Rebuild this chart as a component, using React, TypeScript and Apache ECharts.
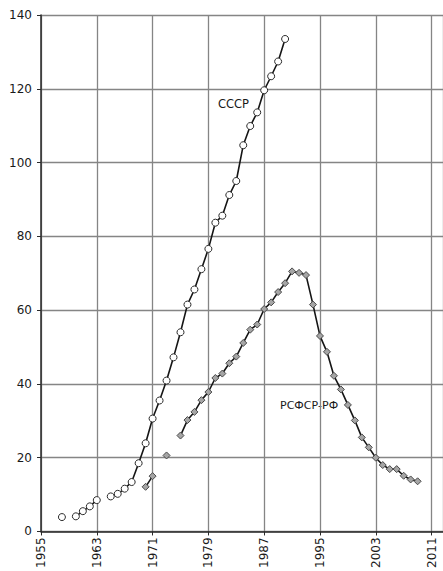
import React, { useEffect, useRef } from "react";
import * as echarts from "echarts";

const xTicks = [1955, 1963, 1971, 1979, 1987, 1995, 2003, 2011];
const yTicks = [0, 20, 40, 60, 80, 100, 120, 140];

const ussrYears = [1958, 1959, 1960, 1961, 1962, 1963, 1964, 1965, 1966, 1967, 1968, 1969, 1970, 1971, 1972, 1973, 1974, 1975, 1976, 1977, 1978, 1979, 1980, 1981, 1982, 1983, 1984, 1985, 1986, 1987, 1988, 1989, 1990];
const ussrValues = [3.9, null, 4.1, 5.5, 6.8, 8.5, null, 9.5, 10.2, 11.6, 13.4, 18.5, 23.9, 30.6, 35.5, 40.9, 47.2, 54.0, 61.5, 65.6, 71.1, 76.6, 83.7, 85.6, 91.2, 95.0, 104.7, 109.9, 113.6, 119.6, 123.4, 127.4, 133.5];

const rsfsrYears = [1970, 1971, 1972, 1973, 1974, 1975, 1976, 1977, 1978, 1979, 1980, 1981, 1982, 1983, 1984, 1985, 1986, 1987, 1988, 1989, 1990, 1991, 1992, 1993, 1994, 1995, 1996, 1997, 1998, 1999, 2000, 2001, 2002, 2003, 2004, 2005, 2006, 2007, 2008, 2009];
const rsfsrValues = [12.1, 15.0, null, 20.6, null, 26.0, 30.2, 32.4, 35.6, 37.8, 41.6, 42.8, 45.6, 47.4, 51.1, 54.7, 56.1, 60.3, 62.1, 64.9, 67.3, 70.5, 70.1, 69.5, 61.5, 53.0, 48.7, 42.2, 38.5, 34.3, 30.1, 25.5, 22.8, 20.0, 18.0, 16.9, 16.9, 15.1, 14.1, 13.6];

const ussrLabel = "СССР";
const rsfsrLabel = "РСФСР-РФ";

const FONT = "DejaVu Sans";

export default function App() {
  const ref = useRef<HTMLDivElement>(null);
  useEffect(() => {
    if (!ref.current) return;
    const chart = echarts.init(ref.current, null, { renderer: "svg" });
    const toData = (xs: number[], vs: (number | null)[]) =>
      xs.map((x, i) => [x, vs[i] === null ? "-" : vs[i]]);
    chart.setOption({
      animation: false,
      backgroundColor: "#ffffff",
      grid: { left: 41, right: 0, top: 15, bottom: 38, containLabel: false },
      xAxis: {
        type: "value",
        min: 1955,
        max: 2012.64,
        interval: 8,
        axisLine: { show: true, onZero: false, lineStyle: { color: "#2a2a2a", width: 1.5 } },
        axisTick: { show: true, length: 4, lineStyle: { color: "#2a2a2a" } },
        splitLine: { show: true, lineStyle: { color: "#858585", width: 1.3 } },
        axisLabel: {
          rotate: 90,
          margin: 6,
          color: "#1a1a1a",
          fontFamily: FONT,
          fontSize: 12,
          showMaxLabel: false,
          formatter: (v: number) => (xTicks.indexOf(Math.round(v)) >= 0 && Math.abs(v - Math.round(v)) < 1e-6 ? String(v) : ""),
        },
      },
      yAxis: {
        type: "value",
        min: yTicks[0],
        max: yTicks[yTicks.length - 1],
        interval: 20,
        axisLine: { show: true, lineStyle: { color: "#2a2a2a", width: 1.5 } },
        axisTick: { show: true, length: 4, lineStyle: { color: "#2a2a2a" } },
        splitLine: { show: true, lineStyle: { color: "#858585", width: 1.3 } },
        axisLabel: { margin: 9, color: "#1a1a1a", fontFamily: FONT, fontSize: 12 },
      },
      series: [
        {
          type: "line",
          name: rsfsrLabel,
          data: toData(rsfsrYears, rsfsrValues),
          connectNulls: false,
          symbol: "diamond",
          symbolSize: 7,
          showAllSymbol: true,
          lineStyle: { color: "#151515", width: 1.6 },
          itemStyle: { color: "#a5a5a5", borderColor: "#4a4a4a", borderWidth: 1 },
          z: 3,
        },
        {
          type: "line",
          name: ussrLabel,
          data: toData(ussrYears, ussrValues),
          connectNulls: false,
          symbol: "circle",
          symbolSize: 7,
          showAllSymbol: true,
          lineStyle: { color: "#151515", width: 1.6 },
          itemStyle: { color: "#ffffff", borderColor: "#2a2a2a", borderWidth: 1 },
          z: 4,
        },
      ],
      graphic: [
        {
          type: "text",
          left: 218,
          top: 98,
          style: { text: ussrLabel, fontFamily: FONT, fontSize: 11.5, fill: "#1a1a1a" },
        },
        {
          type: "text",
          left: 280,
          top: 400,
          style: { text: rsfsrLabel, fontFamily: FONT, fontSize: 11, fill: "#1a1a1a" },
        },
      ],
    });
    return () => chart.dispose();
  }, []);
  return <div ref={ref} style={{ position: "absolute", left: 0, top: 0, width: 443, height: 571 }} />;
}
